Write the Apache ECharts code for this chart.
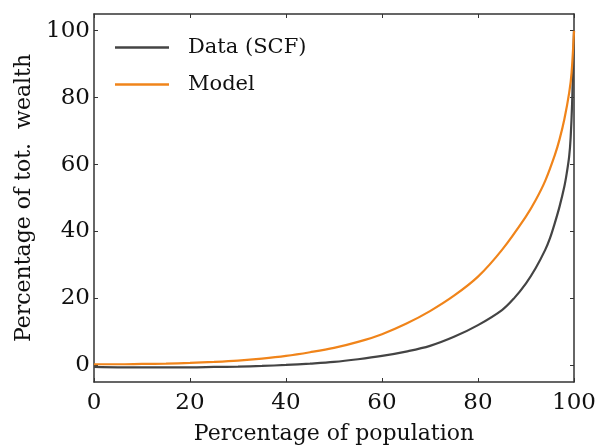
<!DOCTYPE html>
<html>
<head>
<meta charset="utf-8">
<script src="https://cdn.jsdelivr.net/npm/echarts@6/dist/echarts.min.js"></script>
<style>
  html, body { margin: 0; padding: 0; background: #fff; }
  #main { width: 599px; height: 447px; }
</style>
</head>
<body>
<div id="main"></div>
<script>
// population share (x) and cumulative wealth share (y), in percent
var dataX = [0, 5, 10, 15, 20, 25, 30, 35, 40, 45, 50, 55, 60, 65, 70, 75, 80, 85, 87.5, 90, 92, 94, 95, 96, 97, 98, 98.5, 99, 99.3, 99.6, 100];
var dataY = [-0.5, -0.6, -0.6, -0.6, -0.6, -0.5, -0.4, -0.2, 0.1, 0.5, 1.0, 1.8, 2.8, 4.1, 5.8, 8.5, 12, 16.5, 20, 24.5, 29, 34.5, 38, 42.5, 47.5, 53.5, 57.5, 62.5, 68, 78, 100];

var modelX = [0, 5, 10, 15, 20, 25, 30, 35, 40, 45, 50, 55, 60, 65, 70, 75, 80, 85, 90, 92, 94, 96, 97, 98, 99, 99.5, 100];
var modelY = [0.3, 0.3, 0.4, 0.5, 0.7, 1.0, 1.4, 2.0, 2.8, 3.9, 5.2, 7.0, 9.3, 12.4, 16.2, 20.8, 26.5, 34.5, 44.5, 49.3, 55.1, 62.8, 67.6, 73.6, 81.5, 87.5, 100];

var yTicks = [0, 20, 40, 60, 80, 100];

function zip(xs, ys) {
  return xs.map(function (x, i) { return [x, ys[i]]; });
}

var font = 'DejaVu Serif';
var axisColor = '#333';
var frameLine = { show: true, onZero: false, lineStyle: { color: axisColor, width: 1.5 } };
var tick = { inside: true, length: 4, lineStyle: { color: axisColor } };

var chart = echarts.init(document.getElementById('main'));
var option = {
  animation: false,
  textStyle: { fontFamily: font },
  grid: { left: 94, right: 25, top: 14, bottom: 65, outerBoundsMode: 'none' },
  legend: {
    left: 110, top: 32,
    orient: 'vertical',
    itemWidth: 54, itemHeight: 2.5, itemGap: 16,
    icon: 'rect',
    textStyle: { fontFamily: font, fontSize: 21, color: '#111', padding: [0, 0, 0, 14] },
    data: ['Data (SCF)', 'Model']
  },
  xAxis: [{
    type: 'value', min: 0, max: 100, interval: 20,
    name: 'Percentage of population', nameLocation: 'middle', nameGap: 41,
    nameTextStyle: { fontFamily: font, fontSize: 22, color: '#111' },
    axisLine: frameLine,
    axisTick: tick,
    axisLabel: { fontFamily: font, fontSize: 23, color: '#111', margin: 10 },
    splitLine: { show: false }
  }, {
    type: 'value', position: 'top', min: 0, max: 100, interval: 20,
    axisLine: frameLine,
    axisTick: tick,
    axisLabel: { show: false },
    splitLine: { show: false }
  }],
  yAxis: [{
    type: 'value', min: -5, max: 105,
    name: 'Percentage of tot.  wealth', nameLocation: 'middle', nameGap: 47,
    nameTextStyle: { fontFamily: font, fontSize: 22, color: '#111' },
    axisLine: frameLine,
    axisTick: Object.assign({ customValues: yTicks }, tick),
    axisLabel: { fontFamily: font, fontSize: 23, color: '#111', margin: 4, customValues: yTicks },
    splitLine: { show: false }
  }, {
    type: 'value', position: 'right', min: -5, max: 105,
    axisLine: frameLine,
    axisTick: Object.assign({ customValues: yTicks }, tick),
    axisLabel: { show: false },
    splitLine: { show: false }
  }],
  series: [{
    name: 'Data (SCF)', type: 'line', smooth: 0.35, showSymbol: false,
    data: zip(dataX, dataY),
    lineStyle: { color: '#444', width: 2.2 }, itemStyle: { color: '#444' }
  }, {
    name: 'Model', type: 'line', smooth: 0.35, showSymbol: false,
    data: zip(modelX, modelY),
    lineStyle: { color: '#f0841a', width: 2.2 }, itemStyle: { color: '#f0841a' }
  }]
};
chart.setOption(option);
</script>
</body>
</html>
